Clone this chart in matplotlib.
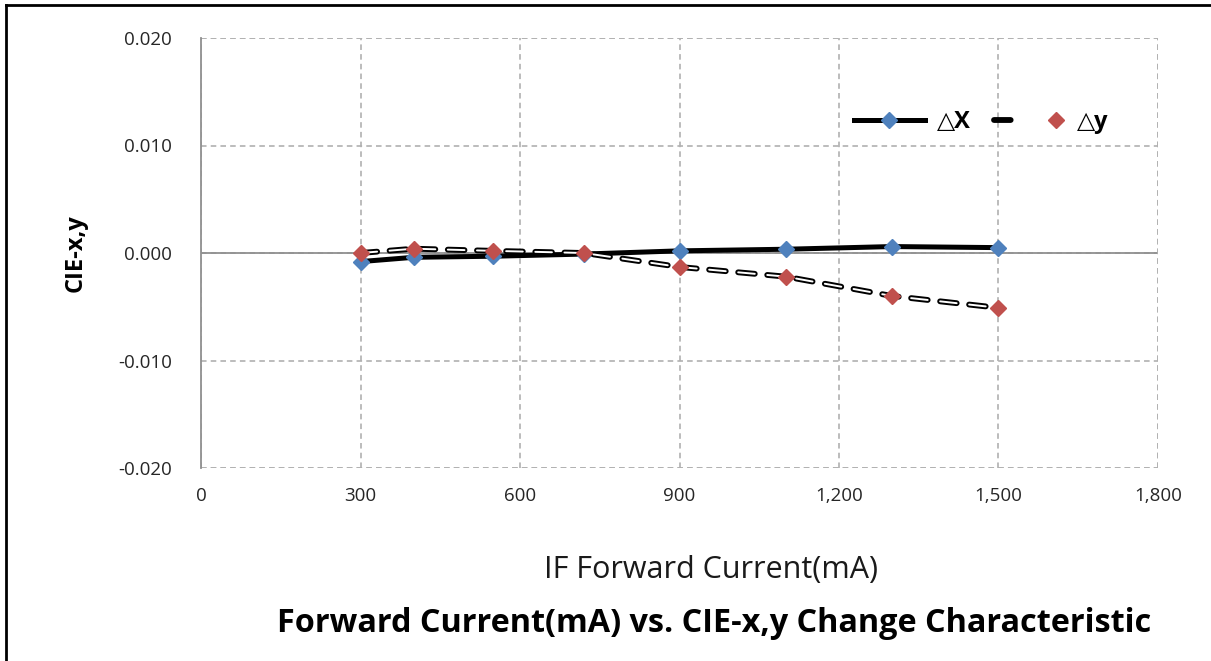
import matplotlib
matplotlib.use("Agg")
import matplotlib.pyplot as plt
from matplotlib.legend_handler import HandlerTuple
from matplotlib.ticker import FuncFormatter

plt.rcParams['font.family'] = ['Open Sans', 'DejaVu Sans']
plt.rcParams['lines.scale_dashes'] = False

# data
current = [300, 400, 550, 720, 900, 1100, 1300, 1500]
dx = [-0.0008, -0.0004, -0.0003, -0.0001, 0.0002, 0.00035, 0.0006, 0.0005]
dy = [0.0000, 0.0004, 0.0002, 0.0000, -0.0013, -0.0022, -0.0040, -0.0051]
xticks = [0, 300, 600, 900, 1200, 1500, 1800]
yticks = [-0.020, -0.010, 0.000, 0.010, 0.020]

fig = plt.figure(figsize=(12.11, 6.61), dpi=100)
ax = fig.add_axes([201/1211, 1-468/661, 957/1211, 430/661])

lx, = ax.plot(current, dx, color='black', lw=3.6, marker='D', ms=8,
              mfc='#4F81BD', mec='#4F81BD', zorder=3)
# double-stroke dashed line for dy: black outline, white core, then markers
dash = (12, 9)
ly_out, = ax.plot(current, dy, color='black', lw=4.2, dashes=dash,
                  dash_capstyle='round', zorder=4)
ly_in, = ax.plot(current, dy, color='white', lw=1.4, dashes=dash,
                 dash_capstyle='round', zorder=4)
ly_mk, = ax.plot(current, dy, ls='none', marker='D', ms=8,
                 mfc='#C0504D', mec='#C0504D', zorder=5)

ax.set_xlim(0, 1800)
ax.set_ylim(-0.02, 0.02)
ax.set_xticks(xticks)
ax.set_yticks(yticks)
ax.xaxis.set_major_formatter(FuncFormatter(lambda v, p: f"{v:,.0f}"))
ax.yaxis.set_major_formatter(FuncFormatter(lambda v, p: f"{v:.3f}"))
ax.tick_params(length=0, labelsize=13.5, labelcolor='#262626')
ax.tick_params(axis='y', pad=21)
ax.tick_params(axis='x', pad=14)

ax.grid(True, color='#b0b0b0', ls=(0, (4, 3)), lw=1.2)
for s in ['top', 'right', 'bottom']:
    ax.spines[s].set_visible(False)
ax.spines['left'].set_color('#909090')
ax.spines['left'].set_linewidth(1.3)
ax.axhline(0, color='#909090', lw=1.3, zorder=2)
ax.axhline(-0.02, color='#b0b0b0', ls=(0, (4, 3)), lw=1.2)
ax.axhline(0.02, color='#b0b0b0', ls=(0, (4, 3)), lw=1.2)
ax.axvline(1800, color='#b0b0b0', ls=(0, (4, 3)), lw=1.2)

ax.set_ylabel('CIE-x,y', fontsize=17, fontweight='bold')
ax.yaxis.set_label_coords(-0.118, 0.5)

ax.legend([lx, (ly_out, ly_in, ly_mk)], ['△X', '△y'], ncol=2,
          handler_map={tuple: HandlerTuple(ndivide=None)},
          loc='center left', bbox_to_anchor=(0.66, 0.805),
          frameon=False, prop={'size': 17, 'weight': 'bold'},
          handlelength=3.0, columnspacing=1.0, handletextpad=0.5)

fig.text(711/1211, 1-570/661, 'IF Forward Current(mA)', fontsize=22,
         ha='center', va='center', color='#1a1a1a')
fig.text(714/1211, 1-624/661, 'Forward Current(mA) vs. CIE-x,y Change Characteristic',
         fontsize=23.3, fontweight='bold', ha='center', va='center')

# outer frame (left and top edges visible)
fig.add_artist(plt.Line2D([6/1211, 6/1211], [0, 1-5/661], color='black', lw=2,
                          transform=fig.transFigure))
fig.add_artist(plt.Line2D([6/1211, 1], [1-5/661, 1-5/661], color='black', lw=2,
                          transform=fig.transFigure))

fig.savefig('out.png', dpi=100)
